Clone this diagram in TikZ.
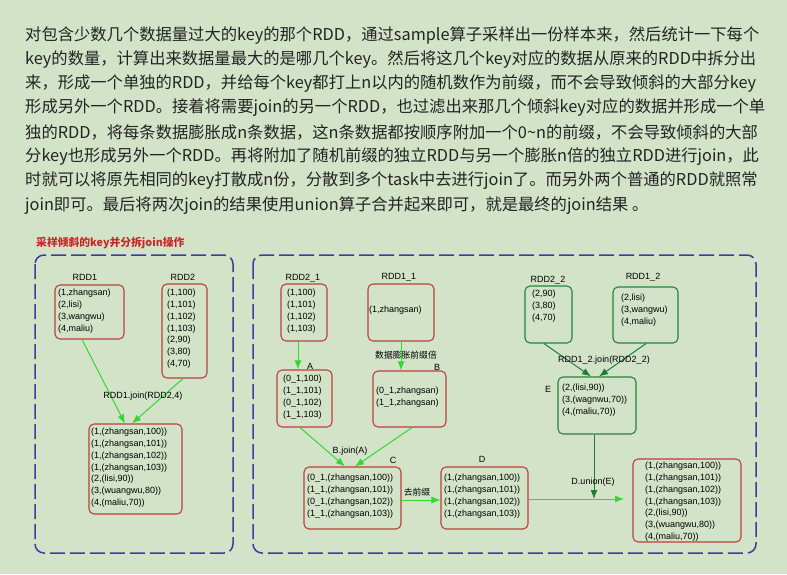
\documentclass[tikz,border=0pt]{standalone}
\usepackage{fontspec}
\setmainfont{Liberation Sans}
\newfontfamily\cjk{Noto Sans CJK SC}
\usetikzlibrary{arrows.meta}

\definecolor{bg}{RGB}{211,227,200}
\definecolor{bodytext}{RGB}{35,35,35}
\definecolor{boxred}{RGB}{185,65,60}
\definecolor{boxgreen}{RGB}{40,130,60}
\definecolor{arrowlime}{RGB}{50,215,50}
\definecolor{arrowdark}{RGB}{25,125,60}
\definecolor{regionblue}{RGB}{60,60,160}
\definecolor{titlered}{RGB}{200,40,40}

\tikzset{
  para/.style={anchor=west, inner sep=0pt, text=bodytext, font=\cjk\fontsize{16.3}{20}\selectfont},
  region/.style={draw=regionblue, line width=1.5pt, dash pattern=on 15pt off 5pt, rounded corners=9pt},
  redbox/.style={draw=boxred, line width=1.1pt, rounded corners=5pt, inner sep=0pt},
  greenbox/.style={draw=boxgreen, line width=1.1pt, rounded corners=5pt, inner sep=0pt},
  rows/.style={anchor=north west, align=left, inner sep=0pt, font=\fontsize{9}{11.8}\selectfont},
  lbl/.style={inner sep=0pt, font=\fontsize{9}{11}\selectfont},
  cjklbl/.style={inner sep=0pt, font=\cjk\fontsize{8.8}{11}\selectfont},
  limearrow/.style={draw=arrowlime, line width=1pt, -{Latex[length=9pt,width=7pt]}},
  darkarrow/.style={draw=arrowdark, line width=1pt, -{Latex[length=9pt,width=7pt]}},
}

\begin{document}
\begin{tikzpicture}[x=1pt,y=-1pt]
\fill[bg] (0,0) rectangle (787,574);
\useasboundingbox (0,0) rectangle (787,574);

% explanatory paragraph
\node[para] (p1) at (25,35)  {对包含少数几个数据量过大的key的那个RDD，通过sample算子采样出一份样本来，然后统计一下每个};
\node[para] (p2) at (25,59.3) {key的数量，计算出来数据量最大的是哪几个key。然后将这几个key对应的数据从原来的RDD中拆分出};
\node[para] (p3) at (25,83.6) {来，形成一个单独的RDD，并给每个key都打上n以内的随机数作为前缀，而不会导致倾斜的大部分key};
\node[para] (p4) at (25,107.9) {形成另外一个RDD。接着将需要join的另一个RDD，也过滤出来那几个倾斜key对应的数据并形成一个单};
\node[para] (p5) at (25,132.2) {独的RDD，将每条数据膨胀成n条数据，这n条数据都按顺序附加一个0\char"7E n的前缀，不会导致倾斜的大部};
\node[para] (p6) at (25,156.5) {分key也形成另外一个RDD。再将附加了随机前缀的独立RDD与另一个膨胀n倍的独立RDD进行join，此};
\node[para] (p7) at (25,180.8) {时就可以将原先相同的key打散成n份，分散到多个task中去进行join了。而另外两个普通的RDD就照常};
\node[para] (p8) at (25,205.1) {join即可。最后将两次join的结果使用union算子合并起来即可，就是最终的join结果 。};

% title and the two dashed regions
\node[anchor=west, inner sep=0pt, text=titlered, font=\cjk\bfseries\fontsize{10.8}{12}\selectfont] (title) at (36,243) {采样倾斜的key并分拆join操作};
\draw[region] (35,255) rectangle (233,553);
\draw[region] (253,255) rectangle (756,553);

% ---- plain join of RDD1 and RDD2
\node[redbox, minimum width=69pt, minimum height=54pt] (rdd1) at (89.5,312) {};
\node[redbox, minimum width=45pt, minimum height=94pt] (rdd2) at (184.5,331) {};
\node[redbox, minimum width=93pt, minimum height=90pt] (res) at (135.5,469) {};
\node[lbl] (rdd1l) at (85,277) {RDD1};
\node[lbl] (rdd2l) at (183,277) {RDD2};
\node[rows] (rdd1t) at (58,289) {(1,zhangsan)\\(2,lisi)\\(3,wangwu)\\(4,maliu)};
\node[rows] (rdd2t) at (167,289) {(1,100)\\(1,101)\\(1,102)\\(1,103)\\(2,90)\\(3,80)\\(4,70)};
\node[rows] (rest) at (91,428) {(1,(zhangsan,100))\\(1,(zhangsan,101))\\(1,(zhangsan,102))\\(1,(zhangsan,103))\\(2,(lisi,90))\\(3,(wuangwu,80))\\(4,(maliu,70))};
\draw[limearrow] ([xshift=-7.5pt]rdd1.south) -- ([xshift=-10.5pt]res.north);
\draw[limearrow] ([xshift=-1.5pt]rdd2.south) -- ([xshift=-3.5pt]res.north);
\node[lbl] (joinl) at (143,396) {RDD1.join(RDD2,4)};

% ---- skewed keys: prefix, expand, join, strip prefix
\node[redbox, minimum width=46pt, minimum height=57pt] (r21) at (304,312.5) {};
\node[redbox, minimum width=66pt, minimum height=57pt] (r11) at (401,312.5) {};
\node[redbox, minimum width=55pt, minimum height=57pt] (A) at (304.5,398.5) {};
\node[redbox, minimum width=73pt, minimum height=56pt] (B) at (409.5,399) {};
\node[redbox, minimum width=97pt, minimum height=62pt] (C) at (352.5,498) {};
\node[redbox, minimum width=87pt, minimum height=62pt] (D) at (484.5,498) {};
\node[lbl] (r21l) at (303,278) {RDD2\_1};
\node[lbl] (r11l) at (399,277) {RDD1\_1};
\node[rows] (r21t) at (287,289) {(1,100)\\(1,101)\\(1,102)\\(1,103)};
\node[rows] (r11t) at (369,306) {(1,zhangsan)};
\node[rows] (At) at (283,375) {(0\_1,100)\\(1\_1,101)\\(0\_1,102)\\(1\_1,103)};
\node[rows] (Bt) at (376,387) {(0\_1,zhangsan)\\(1\_1,zhangsan)};
\node[rows] (Ct) at (307,474) {(0\_1,(zhangsan,100))\\(1\_1,(zhangsan,101))\\(0\_1,(zhangsan,102))\\(1\_1,(zhangsan,103))};
\node[rows] (Dt) at (444,474) {(1,(zhangsan,100))\\(1,(zhangsan,101))\\(1,(zhangsan,102))\\(1,(zhangsan,103))};
\node[lbl] (Al) at (310,366) {A};
\node[lbl] (Bl) at (437,367) {B};
\node[lbl] (Cl) at (393,460) {C};
\node[lbl] (Dl) at (482,459) {D};
\draw[limearrow] ([xshift=-6pt]r21.south) -- ([xshift=-6.5pt]A.north);
\draw[limearrow] (r11.south) -- ([xshift=-8.5pt]B.north);
\node[cjklbl] (expandl) at (406,355) {数据膨胀前缀倍};
\draw[limearrow] ([xshift=-4.5pt]A.south) -- ([xshift=-7.5pt]C.north);
\draw[limearrow] ([xshift=2.5pt]B.south) -- ([xshift=2.5pt]C.north);
\node[lbl] (bjoinl) at (350,451) {B.join(A)};
\draw[limearrow] ([yshift=-2pt]C.east) -- ([yshift=-2pt]D.west);
\node[cjklbl] (stripl) at (417,492) {去前缀};

% ---- ordinary keys: plain join
\node[greenbox, minimum width=47pt, minimum height=57pt] (r22) at (548.5,314.5) {};
\node[greenbox, minimum width=65pt, minimum height=56pt] (r12) at (645.5,315) {};
\node[greenbox, minimum width=78pt, minimum height=57pt] (E) at (597,405.5) {};
\node[lbl] (r22l) at (548,280) {RDD2\_2};
\node[lbl] (r12l) at (643,277) {RDD1\_2};
\node[rows] (r22t) at (532,290) {(2,90)\\(3,80)\\(4,70)};
\node[rows] (r12t) at (621,294) {(2,lisi)\\(3,wangwu)\\(4,maliu)};
\node[rows] (Et) at (562,384) {(2,(lisi,90))\\(3,(wagnwu,70))\\(4,(maliu,70))};
\node[lbl] (El) at (548,389) {E};
\draw[darkarrow] ([xshift=-4.5pt]r22.south) -- ([xshift=-6pt]E.north);
\draw[darkarrow] ([xshift=0.5pt]r12.south) -- ([xshift=2pt]E.north);
\node[lbl] (ejoinl) at (604,360) {RDD1\_2.join(RDD2\_2)};

% ---- union of both results
\node[redbox, minimum width=108pt, minimum height=83pt] (fin) at (687,500.5) {};
\node[rows] (fint) at (645,462) {(1,(zhangsan,100))\\(1,(zhangsan,101))\\(1,(zhangsan,102))\\(1,(zhangsan,103))\\(2,(lisi,90))\\(3,(wuangwu,80))\\(4,(maliu,70))};
\coordinate (u) at (594,499);
\coordinate (v) at (624,499);
\draw[limearrow] (D.east |- v) -- (v);
\draw[darkarrow] ([xshift=-3pt]E.south) -- (u);
\node[lbl] (unionl) at (593,482) {D.union(E)};
\end{tikzpicture}
\end{document}
